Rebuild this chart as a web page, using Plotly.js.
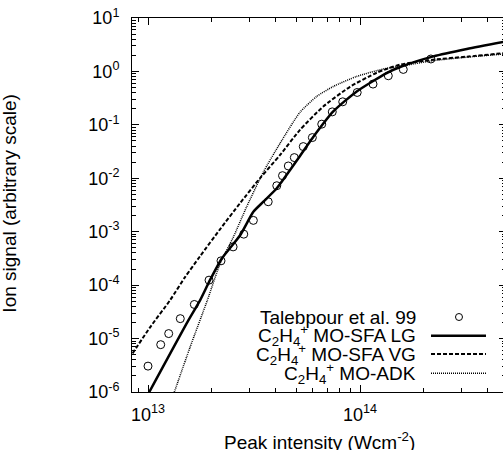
<!DOCTYPE html>
<html><head><meta charset="utf-8">
<script src="https://cdn.plot.ly/plotly-3.0.1.min.js"></script>
<style>html,body{margin:0;padding:0;overflow:hidden;background:#fff;width:503px;height:450px}#chart{width:506px;height:450px}</style>
</head><body><div id="chart"></div>
<script>
// Experimental data (Talebpour et al. 99)
const expIntensity = [1.0e13, 1.148e13, 1.252e13, 1.42e13, 1.654e13, 1.94e13, 2.21e13, 2.52e13, 2.83e13, 3.14e13, 3.69e13, 4.05e13, 4.31e13, 4.59e13, 4.90e13, 5.40e13, 5.96e13, 6.60e13, 7.40e13, 8.29e13, 9.7e13, 1.152e14, 1.36e14, 1.60e14, 2.16e14];
const expSignal = [3.05e-6, 7.69e-6, 1.24e-5, 2.36e-5, 4.35e-5, 1.24e-4, 2.85e-4, 5.2e-4, 9.0e-4, 1.63e-3, 3.64e-3, 7.26e-3, 1.12e-2, 1.70e-2, 2.44e-2, 3.92e-2, 5.78e-2, 0.103, 0.175, 0.270, 0.404, 0.580, 0.83, 1.09, 1.71];
// C2H4+ MO-SFA LG
const lgIntensity = [1.014e13, 1.55e13, 1.76e13, 1.96e13, 2.23e13, 2.72e13, 3.14e13, 3.50e13, 4.05e13, 4.68e13, 5.21e13, 5.96e13, 7.48e13, 9.65e13, 1.336e14, 1.545e14, 2.22e14, 3.19e14, 5.0e14];
const lgSignal = [1.0e-6, 2.19e-5, 5.2e-5, 1.24e-4, 3.16e-4, 8.6e-4, 2.36e-3, 3.64e-3, 6.5e-3, 1.43e-2, 2.62e-2, 5.63e-2, 0.178, 0.422, 0.933, 1.21, 1.91, 2.63, 3.7];
// C2H4+ MO-SFA VG
const vgIntensity = [8.45e12, 1.022e13, 1.27e13, 1.495e13, 1.76e13, 2.19e13, 2.72e13, 3.38e13, 4.20e13, 5.21e13, 6.69e13, 8.97e13, 1.20e14, 1.545e14, 2.21e14, 3.20e14, 5.0e14];
const vgSignal = [5.27e-6, 1.62e-5, 5.21e-5, 1.41e-4, 3.48e-4, 1.12e-3, 3.44e-3, 1.01e-2, 2.74e-2, 8.05e-2, 0.218, 0.516, 0.946, 1.34, 1.66, 1.89, 2.24];
// C2H4+ MO-ADK
const adkIntensity = [1.30e13, 1.578e13, 1.905e13, 2.19e13, 2.53e13, 2.92e13, 3.50e13, 4.20e13, 5.21e13, 6.25e13, 7.48e13, 9.65e13, 1.288e14, 1.60e14, 2.21e14, 3.20e14, 5.0e14];
const adkSignal = [7.6e-7, 6.84e-6, 5.21e-5, 2.54e-4, 8.02e-4, 2.93e-3, 1.31e-2, 4.54e-2, 0.1716, 0.340, 0.523, 0.806, 1.11, 1.28, 1.59, 1.85, 2.15];

const seriesNames = ['Talebpour et al. 99',
  'C<sub>2</sub>H<sub>4</sub><sup>+</sup> MO-SFA LG',
  'C<sub>2</sub>H<sub>4</sub><sup>+</sup> MO-SFA VG',
  'C<sub>2</sub>H<sub>4</sub><sup>+</sup> MO-ADK'];

const xMajor = [1e13, 1e14];
const xMajorText = ['10<sup>13</sup>', '10<sup>14</sup>'];
const yMajor = [1e-6, 1e-5, 1e-4, 1e-3, 1e-2, 1e-1, 1e0, 1e1];
const yMajorText = ['10<sup>-6</sup>', '10<sup>-5</sup>', '10<sup>-4</sup>', '10<sup>-3</sup>', '10<sup>-2</sup>', '10<sup>-1</sup>', '10<sup>0</sup>', '10<sup>1</sup>'];

const xMinor = [];
[12, 13, 14].forEach(e => { for (let m = 2; m <= 9; m++) xMinor.push(m * Math.pow(10, e)); });
const yMinor = [];
[-6, -5, -4, -3, -2, -1, 0].forEach(e => { for (let m = 2; m <= 9; m++) yMinor.push(m * Math.pow(10, e)); });

const FONT = 'Liberation Sans, Arial, Helvetica, sans-serif';

const traces = [
  {x: expIntensity, y: expSignal, mode: 'markers', type: 'scatter', name: seriesNames[0],
   marker: {symbol: 'circle-open', size: 8, color: '#000', line: {width: 1, color: '#000'}}},
  {x: lgIntensity, y: lgSignal, mode: 'lines', type: 'scatter', name: seriesNames[1],
   line: {color: '#000', width: 2.5, shape: 'spline', smoothing: 0.6}},
  {x: vgIntensity, y: vgSignal, mode: 'lines', type: 'scatter', name: seriesNames[2],
   line: {color: '#000', width: 2, dash: '4px,2px', shape: 'spline', smoothing: 0.6}},
  {x: adkIntensity, y: adkSignal, mode: 'lines', type: 'scatter', name: seriesNames[3],
   line: {color: '#000', width: 1.5, dash: '1px,1px', shape: 'spline', smoothing: 0.6}}
];

const axisCommon = {
  type: 'log', showline: true, linecolor: '#000', linewidth: 1, mirror: 'ticks',
  ticks: 'inside', ticklen: 7, tickwidth: 1, tickcolor: '#000',
  showgrid: false, zeroline: false,
  tickfont: {family: FONT, size: 18, color: '#000'}
};

// legend geometry (paper coordinates)
const legTextX = 0.7647, legX0 = 0.7995, legX1 = 0.9465, legCircleX = 0.8743;
const legRowY = [0.2005, 0.1505, 0.1016, 0.05];

const annotations = [
  {text: 'Peak intensity (Wcm<sup>-2</sup>)', xref: 'paper', yref: 'paper', x: 0.5, y: -0.131,
   xanchor: 'center', yanchor: 'middle', showarrow: false, font: {family: FONT, size: 19, color: '#000'}},
  {text: 'Ion signal (arbitrary scale)', xref: 'paper', yref: 'paper', x: -0.3275, y: 0.505, textangle: -90,
   xanchor: 'center', yanchor: 'middle', showarrow: false, font: {family: FONT, size: 19, color: '#000'}}
];
seriesNames.forEach((t, i) => annotations.push({
  text: t, xref: 'paper', yref: 'paper', x: legTextX, y: legRowY[i], xanchor: 'right', yanchor: 'middle',
  showarrow: false, font: {family: FONT, size: 19, color: '#000'}
}));

const shapes = [
  {type: 'circle', xref: 'paper', yref: 'paper', xsizemode: 'pixel', ysizemode: 'pixel',
   xanchor: legCircleX, yanchor: legRowY[0], x0: -3.5, x1: 3.5, y0: -3.5, y1: 3.5, line: {color: '#000', width: 1}},
  {type: 'line', xref: 'paper', yref: 'paper', x0: legX0, x1: legX1, y0: legRowY[1], y1: legRowY[1], line: {color: '#000', width: 2.5}},
  {type: 'line', xref: 'paper', yref: 'paper', x0: legX0, x1: legX1, y0: legRowY[2], y1: legRowY[2], line: {color: '#000', width: 2, dash: '4px,2px'}},
  {type: 'line', xref: 'paper', yref: 'paper', x0: legX0, x1: legX1, y0: legRowY[3], y1: legRowY[3], line: {color: '#000', width: 1.5, dash: '1px,1px'}}
];

const layout = {
  width: 506, height: 450,
  margin: {l: 132, r: 0, t: 18, b: 58, pad: 0},
  paper_bgcolor: '#fff', plot_bgcolor: '#fff',
  showlegend: false,
  xaxis: Object.assign({}, axisCommon, {
    range: [12.9245, 14.6887], tickmode: 'array', tickvals: xMajor, ticktext: xMajorText,
    ticklabelstandoff: 6,
    minor: {tickmode: 'array', tickvals: xMinor, ticks: 'inside', ticklen: 4, tickwidth: 1, tickcolor: '#000'}
  }),
  yaxis: Object.assign({}, axisCommon, {
    range: [-6, 1], tickmode: 'array', tickvals: yMajor, ticktext: yMajorText,
    ticklabelstandoff: 8,
    minor: {tickmode: 'array', tickvals: yMinor, ticks: 'inside', ticklen: 4, tickwidth: 1, tickcolor: '#000'}
  }),
  annotations: annotations,
  shapes: shapes
};

Plotly.newPlot('chart', traces, layout, {staticPlot: true, displayModeBar: false});
</script>
</body></html>
